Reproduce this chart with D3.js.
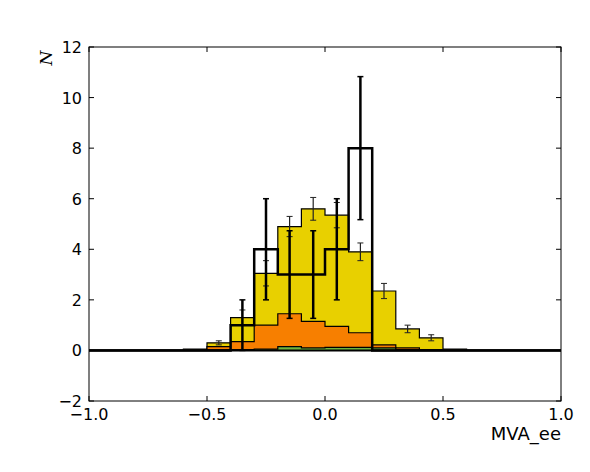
<!DOCTYPE html><html><head><meta charset="utf-8"><script src="https://cdn.jsdelivr.net/npm/d3@7"></script>
<style>body{margin:0;background:#fff}</style></head><body><svg id="c" width="590" height="472"></svg><script>
const edges=[-1,-0.9,-0.8,-0.7,-0.6,-0.5,-0.4,-0.3,-0.2,-0.1,0,0.1,0.2,0.3,0.4,0.5,0.6,0.7,0.8,0.9,1];
const green=[0,0,0,0,0,0.02,0.03,0.05,0.15,0.1,0.12,0.12,0.1,0.03,0.01,0,0,0,0,0];
const orange=[0,0,0,0,0.01,0.15,0.35,1.0,1.45,1.15,0.95,0.7,0.22,0.1,0.03,0.01,0,0,0,0];
const yellow=[0,0,0,0,0.05,0.3,1.3,3.05,4.9,5.6,5.35,3.9,2.35,0.85,0.5,0.05,0,0,0,0];
const yellowErr=[0,0,0,0,0.02,0.08,0.3,0.5,0.4,0.45,0.5,0.35,0.3,0.15,0.12,0.02,0,0,0,0];
const dataN=[0,0,0,0,0,0,1,4,3,3,4,8,0,0,0,0,0,0,0,0];
const xTicks=[-1.0,-0.5,0.0,0.5,1.0];
const yTicks=[-2,0,2,4,6,8,10,12];
const svg=d3.select("#c");
const L=89,R=561,T=47,B=401;
const x=d3.scaleLinear().domain([-1,1]).range([L,R]);
const y=d3.scaleLinear().domain([-2,12]).range([B,T]);
const g=svg.append("g");
function step(vals){const p=[];vals.forEach((v,i)=>{p.push([edges[i],v]);p.push([edges[i+1],v]);});return p;}
function area(vals,fill){
 g.append("path").datum(step(vals)).attr("fill",fill).attr("stroke","none")
  .attr("d",d3.area().x(d=>x(d[0])).y0(y(0)).y1(d=>y(d[1])));
 g.append("path").datum(step(vals)).attr("fill","none").attr("stroke","#000").attr("stroke-width",1.2)
  .attr("d",d3.line().x(d=>x(d[0])).y(d=>y(d[1])));
}
area(yellow,"#e8d000");area(orange,"#f77f00");area(green,"#6db33f");
yellow.forEach((v,i)=>{if(v<0.2)return;const cx=x((edges[i]+edges[i+1])/2);
 g.append("line").attr("x1",cx).attr("x2",cx).attr("y1",y(v-yellowErr[i])).attr("y2",y(v+yellowErr[i])).attr("stroke","#222").attr("stroke-width",1.2);
 [v-yellowErr[i],v+yellowErr[i]].forEach(e=>g.append("line").attr("x1",cx-3).attr("x2",cx+3).attr("y1",y(e)).attr("y2",y(e)).attr("stroke","#222"));});
g.append("path").datum(step(dataN)).attr("fill","none").attr("stroke","#000").attr("stroke-width",2.5)
 .attr("d",d3.line().x(d=>x(d[0])).y(d=>y(d[1])));
dataN.forEach((v,i)=>{if(v<=0)return;const cx=x((edges[i]+edges[i+1])/2),e=Math.sqrt(v);
 g.append("line").attr("x1",cx).attr("x2",cx).attr("y1",y(v-e)).attr("y2",y(v+e)).attr("stroke","#000").attr("stroke-width",2.5);
 [v-e,v+e].forEach(q=>g.append("line").attr("x1",cx-3).attr("x2",cx+3).attr("y1",y(q)).attr("y2",y(q)).attr("stroke","#000").attr("stroke-width",1.5));});
g.append("line").attr("x1",L).attr("x2",R).attr("y1",y(0)).attr("y2",y(0)).attr("stroke","#000").attr("stroke-width",2);
svg.append("rect").attr("x",L).attr("y",T).attr("width",R-L).attr("height",B-T).attr("fill","none").attr("stroke","#000");
xTicks.forEach(t=>{svg.append("line").attr("x1",x(t)).attr("x2",x(t)).attr("y1",B).attr("y2",B-5).attr("stroke","#000");
 svg.append("line").attr("x1",x(t)).attr("x2",x(t)).attr("y1",T).attr("y2",T+5).attr("stroke","#000");
 svg.append("text").attr("x",x(t)).attr("y",B+19).attr("text-anchor","middle").attr("font-family","DejaVu Sans").attr("font-size",16).text(d3.format(".1f")(t).replace("-","−"));});
yTicks.forEach(t=>{svg.append("line").attr("x1",L).attr("x2",L+5).attr("y1",y(t)).attr("y2",y(t)).attr("stroke","#000");
 svg.append("line").attr("x1",R).attr("x2",R-5).attr("y1",y(t)).attr("y2",y(t)).attr("stroke","#000");
 svg.append("text").attr("x",L-7).attr("y",y(t)+6).attr("text-anchor","end").attr("font-family","DejaVu Sans").attr("font-size",16).text(String(t).replace("-","−"));});
svg.append("text").attr("x",R).attr("y",440).attr("text-anchor","end").attr("font-family","DejaVu Sans").attr("font-size",18).text("MVA_ee");
svg.append("text").attr("transform","translate(52,58) rotate(-90)").attr("text-anchor","middle").attr("font-family","DejaVu Serif").attr("font-style","italic").attr("font-size",17).text("N");
</script></body></html>
